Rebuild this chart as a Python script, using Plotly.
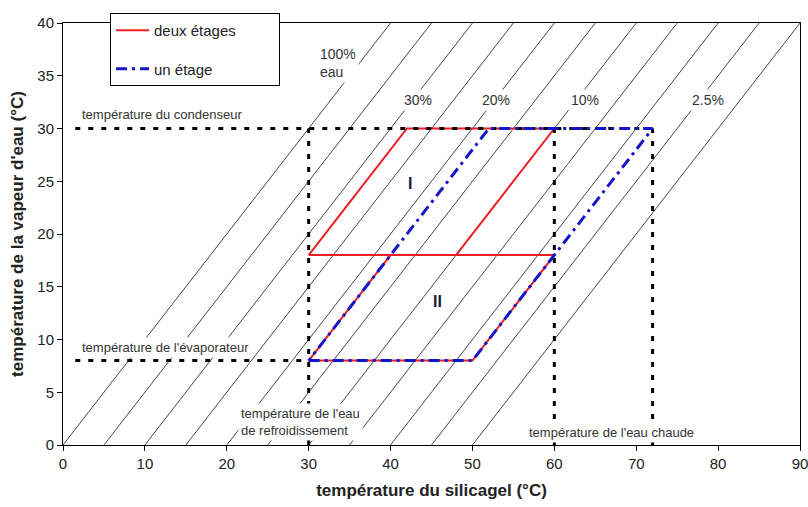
import plotly.graph_objects as go

# Axis ranges
T_silica_range = [0, 90]
T_vapour_range = [0, 40]

# Isosteres: silica-gel temperature where each line meets 0 °C vapour temperature
isostere_offsets = [0, 5, 10, 15, 20, 25, 30, 35, 40, 45, 50]

# Operating temperatures (°C)
T_condenser = 30
T_evaporator = 8
T_cooling = 30
T_hot_two_stage = 60
T_hot_one_stage = 72
T_guide_start = 1.5

# Two-stage cycle (I above, II below), silica-gel vs vapour temperature
two_stage_T_silica = [30, 42, 60, 48, 30, None, 40, 60, 50, 30, 40]
two_stage_T_vapour = [18, 30, 30, 18, 18, None, 18, 18, 8, 8, 18]

# Single-stage cycle
one_stage_T_silica = [30, 50, 72, 52, 30]
one_stage_T_vapour = [8, 8, 30, 30, 8]

FONT = "Liberation Sans, Arial, sans-serif"

fig = go.Figure()

# Isosteres of slope 1, clipped by the plot area
iso_x, iso_y = [], []
for c in isostere_offsets:
    iso_x += [c, c + T_vapour_range[1], None]
    iso_y += [T_vapour_range[0], T_vapour_range[1], None]
fig.add_trace(go.Scatter(x=iso_x, y=iso_y, mode="lines",
                         line=dict(color="#1a1a1a", width=0.8),
                         showlegend=False, hoverinfo="skip"))

fig.add_trace(go.Scatter(x=two_stage_T_silica, y=two_stage_T_vapour, mode="lines",
                         name="deux étages" + "\u00a0" * 9,
                         legendgroup="a",
                         line=dict(color="#ee1c25", width=2)))

# Dotted guides for the operating temperatures
gx = [T_guide_start, T_hot_one_stage, None,
      T_guide_start, T_cooling, None,
      T_cooling, T_cooling, None,
      T_hot_two_stage, T_hot_two_stage, None,
      T_hot_one_stage, T_hot_one_stage]
gy = [T_condenser, T_condenser, None,
      T_evaporator, T_evaporator, None,
      0, T_condenser, None,
      0, T_condenser, None,
      0, T_condenser]
fig.add_trace(go.Scatter(x=gx, y=gy, mode="lines",
                         line=dict(color="black", width=3, dash="5px,8px"),
                         showlegend=False, hoverinfo="skip"))

fig.add_trace(go.Scatter(x=one_stage_T_silica, y=one_stage_T_vapour, mode="lines",
                         name="un étage",
                         legendgroup="b",
                         line=dict(color="#1414c8", width=3, dash="11px,5px,3px,5px")))

lab_font = dict(family=FONT, size=14, color="#333333")
small_font = dict(family=FONT, size=13, color="#333333")

annotations = [
    dict(x=31, y=36.2, text="100%<br>eau", xanchor="left", align="left", font=lab_font),
    dict(x=43.3, y=32.7, text="30%", font=lab_font),
    dict(x=52.9, y=32.7, text="20%", font=lab_font),
    dict(x=63.7, y=32.7, text="10%", font=lab_font),
    dict(x=78.8, y=32.7, text="2.5%", font=lab_font),
    dict(x=2.0, y=31.3, text="température du condenseur", xanchor="left", font=small_font),
    dict(x=2.0, y=9.2, text="température de l'évaporateur", xanchor="left", font=small_font),
    dict(x=21.4, y=2.2, text="température de l'eau<br>de refroidissement",
         xanchor="left", align="left", font=small_font),
    dict(x=56.6, y=1.2, text="température de l'eau chaude", xanchor="left", font=small_font),
    dict(x=42.4, y=24.8, text="<b>I</b>", font=dict(family=FONT, size=16, color="#1a1a40")),
    dict(x=45.7, y=13.6, text="<b>II</b>", font=dict(family=FONT, size=16, color="#1a1a40")),
]
for a in annotations:
    a.update(xref="x", yref="y", showarrow=False, bgcolor="white", borderpad=2)
fig.update_layout(annotations=annotations)

fig.update_layout(
    width=808, height=507,
    margin=dict(l=63, r=8, t=23, b=62, autoexpand=False),
    paper_bgcolor="white", plot_bgcolor="white",
    font=dict(family=FONT, color="#222222"),
    legend=dict(x=(110 - 63) / 737, y=(445 - 13) / 422, xanchor="left", yanchor="top",
                bgcolor="white", bordercolor="black", borderwidth=1,
                font=dict(family=FONT, size=15, color="#222222"),
                traceorder="grouped", tracegroupgap=16, itemwidth=33),
)
fig.update_xaxes(range=T_silica_range, dtick=10, showgrid=False, zeroline=False,
                 showline=True, linecolor="black", linewidth=1, mirror=True,
                 ticks="outside", ticklen=5, tickcolor="black",
                 ticklabeloverflow="allow", automargin=False,
                 tickfont=dict(family=FONT, size=15, color="#222222"),
                 title=dict(text="<b>température du silicagel (°C)</b>",
                            font=dict(family=FONT, size=17, color="#222222"), standoff=13))
fig.update_yaxes(range=T_vapour_range, dtick=5, showgrid=False, zeroline=False,
                 showline=True, linecolor="black", linewidth=1, mirror=True,
                 ticks="outside", ticklen=5, tickcolor="black", automargin=False,
                 tickfont=dict(family=FONT, size=15, color="#222222"),
                 title=dict(text="<b>température de la vapeur d'eau (°C)</b>",
                            font=dict(family=FONT, size=17, color="#222222"), standoff=9))

fig.write_html("out.html")
